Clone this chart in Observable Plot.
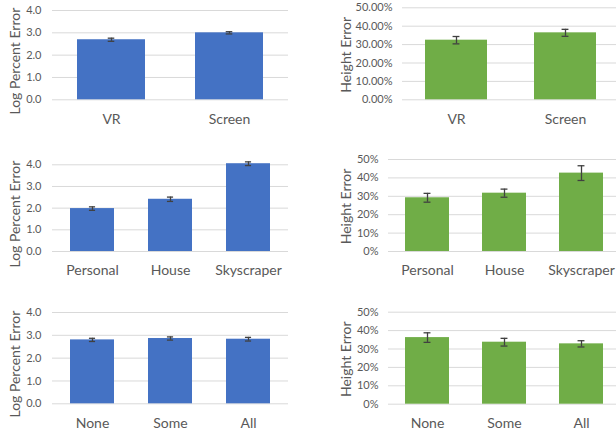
<!DOCTYPE html>
<html><head><meta charset="utf-8">
<script src="https://cdn.jsdelivr.net/npm/d3@7"></script>
<script src="https://cdn.jsdelivr.net/npm/@observablehq/plot@0.6"></script>
<style>
html,body{margin:0;padding:0;background:#fff;}
#wrap{position:relative;width:616px;height:431px;overflow:hidden;background:#fff;}
#wrap > div{position:absolute;}
</style></head>
<body><div id="wrap"></div>
<script>
const conditions = ["VR", "Screen"];
const condLog = [2.69, 3.00];
const condLogErr = [0.07, 0.05];
const condHeight = [0.324, 0.364];
const condHeightErr = [0.020, 0.019];

const sizes = ["Personal", "House", "Skyscraper"];
const sizeLog = [1.98, 2.41, 4.05];
const sizeLogErr = [0.08, 0.10, 0.085];
const sizeHeight = [0.292, 0.317, 0.426];
const sizeHeightErr = [0.024, 0.022, 0.040];

const knowledge = ["None", "Some", "All"];
const knowLog = [2.80, 2.86, 2.83];
const knowLogErr = [0.07, 0.07, 0.08];
const knowHeight = [0.362, 0.337, 0.328];
const knowHeightErr = [0.026, 0.021, 0.017];

const logTicks = [0, 1, 2, 3, 4];
const pctTicks = [0, 0.1, 0.2, 0.3, 0.4, 0.5];

const BLUE = "#4472C4", GREEN = "#70AD47", GRID = "#D9D9D9", TEXT = "#595959", ERR = "#404040";
const FONT = "Lato, 'Open Sans', sans-serif";

function panel(o) {
  const data = o.cats.map((c, i) => ({c, v: o.vals[i], e: o.errs[i]}));
  const n = o.cats.length;
  const bw = (o.w - o.mL - o.mR) / n * (1 - o.pInner);
  const capInset = bw / 2 - 3.5;
  const chart = Plot.plot({
    width: o.w, height: o.h,
    marginLeft: o.mL, marginRight: o.mR, marginTop: o.mT, marginBottom: o.mB,
    style: {background: "transparent", fontFamily: FONT, color: TEXT, overflow: "visible", maxWidth: "none"},
    x: {domain: o.cats, paddingInner: o.pInner, paddingOuter: o.pInner / 2, label: null},
    y: {domain: o.domain, label: null},
    marks: [
      Plot.ruleY(o.ticks, {stroke: GRID, strokeWidth: 1}),
      Plot.barY(data, {x: "c", y: "v", fill: o.color}),
      Plot.ruleX(data, {x: "c", y1: d => d.v - d.e, y2: d => d.v + d.e, stroke: ERR, strokeWidth: 1.3}),
      Plot.tickY(data, {x: "c", y: d => d.v + d.e, stroke: ERR, strokeWidth: 1.3, insetLeft: capInset, insetRight: capInset}),
      Plot.tickY(data, {x: "c", y: d => d.v - d.e, stroke: ERR, strokeWidth: 1.3, insetLeft: capInset, insetRight: capInset}),
      Plot.axisX({tickSize: 0, tickPadding: 14, fontSize: 14, label: null}),
      Plot.axisY({ticks: o.ticks, tickFormat: o.fmt, tickSize: 0, tickPadding: o.tp, fontSize: 11, label: null}),
      Plot.text([o.title], {frameAnchor: "left", textAnchor: "middle", lineAnchor: "middle", rotate: -90, dx: o.tdx, dy: o.tdy, fontSize: 14, fill: TEXT})
    ]
  });
  const box = document.createElement("div");
  box.style.left = o.left + "px";
  box.style.top = o.top + "px";
  box.appendChild(chart);
  document.getElementById("wrap").appendChild(box);
}

const fmt1 = d3.format(".1f"), fmt2p = d3.format(".2%"), fmt0p = d3.format(".0%");

panel({cats: conditions, vals: condLog, errs: condLogErr, color: BLUE, domain: [0, 4], ticks: logTicks, fmt: fmt1,
  title: "Log Percent Error", left: 0, top: 0, w: 310, h: 140, mL: 52, mR: 22, mT: 10, mB: 40.7, pInner: 0.42, tp: 11, tdx: -37, tdy: 6});
panel({cats: sizes, vals: sizeLog, errs: sizeLogErr, color: BLUE, domain: [0, 4], ticks: logTicks, fmt: fmt1,
  title: "Log Percent Error", left: 0, top: 140, w: 310, h: 150, mL: 52, mR: 22, mT: 24.3, mB: 39, pInner: 0.43, tp: 11, tdx: -37, tdy: 6});
panel({cats: knowledge, vals: knowLog, errs: knowLogErr, color: BLUE, domain: [0, 4], ticks: logTicks, fmt: fmt1,
  title: "Log Percent Error", left: 0, top: 290, w: 310, h: 141, mL: 52, mR: 22, mT: 22, mB: 27.7, pInner: 0.43, tp: 11, tdx: -37, tdy: 6});

panel({cats: conditions, vals: condHeight, errs: condHeightErr, color: GREEN, domain: [0, 0.5], ticks: pctTicks, fmt: fmt2p,
  title: "Height Error", left: 310, top: 0, w: 310, h: 140, mL: 92, mR: 0, mT: 7.3, mB: 40.7, pInner: 0.43, tp: 10, tdx: -56, tdy: 1});
panel({cats: sizes, vals: sizeHeight, errs: sizeHeightErr, color: GREEN, domain: [0, 0.5], ticks: pctTicks, fmt: fmt0p,
  title: "Height Error", left: 310, top: 140, w: 310, h: 150, mL: 78, mR: 0, mT: 19, mB: 39, pInner: 0.43, tp: 10, tdx: -42, tdy: 1});
panel({cats: knowledge, vals: knowHeight, errs: knowHeightErr, color: GREEN, domain: [0, 0.5], ticks: pctTicks, fmt: fmt0p,
  title: "Height Error", left: 310, top: 290, w: 310, h: 141, mL: 78, mR: 0, mT: 21.7, mB: 27.3, pInner: 0.43, tp: 10, tdx: -42, tdy: 1});
</script>
</body></html>
